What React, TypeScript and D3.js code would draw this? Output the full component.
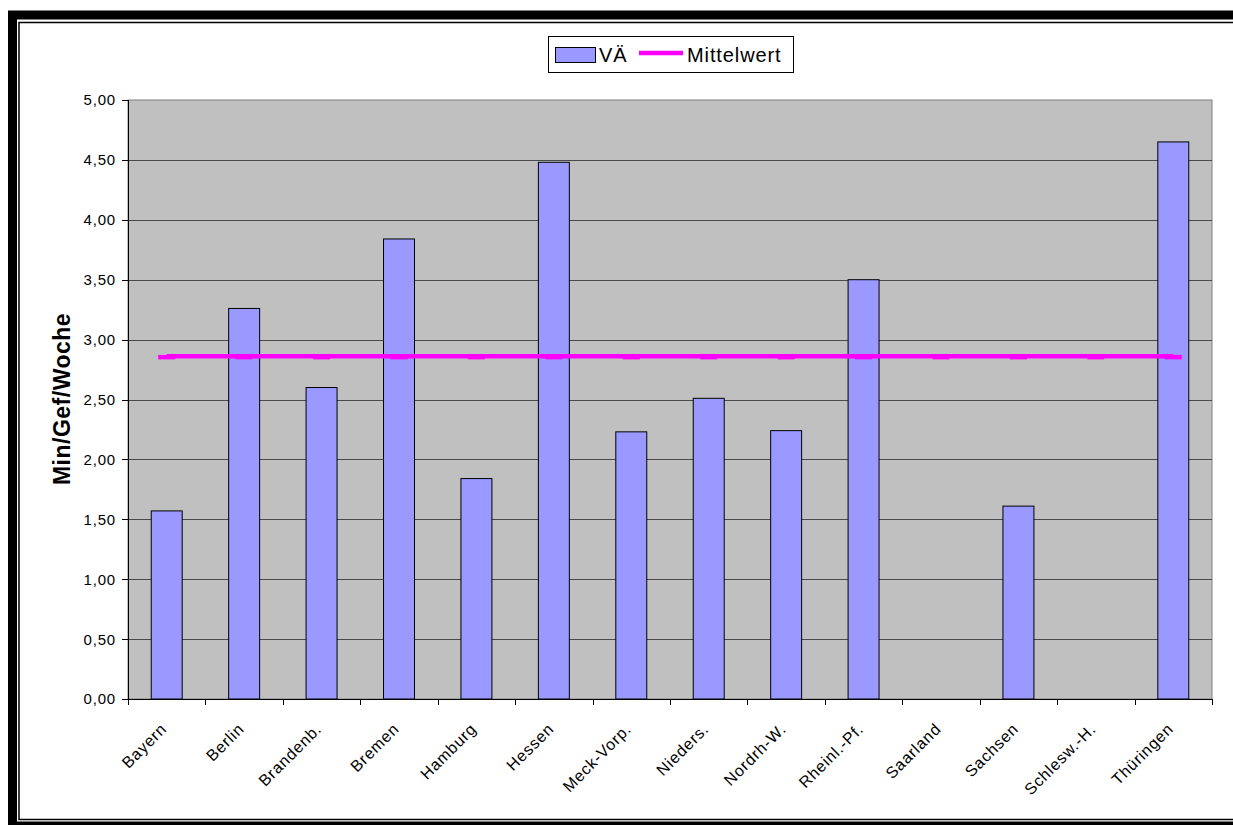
import React from "react";
import * as d3 from "d3";

// Bundesländer (x categories)
const categories: string[] = [
  "Bayern",
  "Berlin",
  "Brandenb.",
  "Bremen",
  "Hamburg",
  "Hessen",
  "Meck-Vorp.",
  "Nieders.",
  "Nordrh-W.",
  "Rheinl.-Pf.",
  "Saarland",
  "Sachsen",
  "Schlesw.-H.",
  "Thüringen",
];

// VÄ values in Min/Gef/Woche (null = no data)
const vaeValues: (number | null)[] = [
  1.57, 3.26, 2.6, 3.84, 1.84, 4.48, 2.23, 2.51, 2.24, 3.5, null, 1.61, null, 4.65,
];

// Mittelwert series (same value for every category)
const meanValues: number[] = [
  2.86, 2.86, 2.86, 2.86, 2.86, 2.86, 2.86, 2.86, 2.86, 2.86, 2.86, 2.86, 2.86, 2.86,
];

const yTicks: number[] = [0, 0.5, 1, 1.5, 2, 2.5, 3, 3.5, 4, 4.5, 5];

const W = 1233;
const H = 825;
const plot = { left: 128, top: 100, right: 1212, bottom: 699 };
const FONT = "'Liberation Sans', Arial, sans-serif";

const fmt = (v: number) => d3.format(".2f")(v).replace(".", ",");

export default function App() {
  const x = d3
    .scaleBand<string>()
    .domain(categories)
    .range([plot.left, plot.right])
    .paddingInner(0)
    .paddingOuter(0);
  const y = d3.scaleLinear().domain([0, 5]).range([plot.bottom, plot.top]);
  const bw = x.bandwidth();
  const barW = bw / 2.5;
  const center = (c: string) => (x(c) as number) + bw / 2;

  const meanLine = d3
    .line<number>()
    .x((_, i) => center(categories[i]))
    .y((d) => y(d));

  const boundaries = categories.map((c) => x(c) as number).concat([plot.right]);

  return (
    <svg
      width={W}
      height={H}
      style={{ position: "absolute", left: 0, top: 0, background: "#fff" }}
      fontFamily={FONT}
    >
      <rect x={0} y={0} width={W} height={H} fill="#fff" />

      {/* double frame */}
      <rect x={12.5} y={15} width={W + 20} height={811} fill="none" stroke="#000" strokeWidth={9} />
      <rect x={19} y={22.5} width={W + 20} height={797} fill="none" stroke="#000" strokeWidth={1.5} />

      {/* plot area */}
      <rect
        x={plot.left}
        y={plot.top}
        width={plot.right - plot.left}
        height={plot.bottom - plot.top}
        fill="#c0c0c0"
        stroke="#808080"
        strokeWidth={1}
      />

      {/* gridlines */}
      {yTicks
        .filter((t) => t > 0 && t < 5)
        .map((t) => (
          <line
            key={"g" + t}
            x1={plot.left}
            x2={plot.right}
            y1={Math.round(y(t)) + 0.5}
            y2={Math.round(y(t)) + 0.5}
            stroke="#4a4a4a"
            strokeWidth={1}
          />
        ))}

      {/* bars */}
      {categories.map((c, i) => {
        const v = vaeValues[i];
        if (v == null) return null;
        return (
          <rect
            key={"b" + c}
            x={center(c) - barW / 2}
            y={y(v)}
            width={barW}
            height={y(0) - y(v)}
            fill="#9999ff"
            stroke="#000"
            strokeWidth={1}
          />
        );
      })}

      {/* mean line with dash markers */}
      <path d={meanLine(meanValues) || ""} fill="none" stroke="#ff00ff" strokeWidth={4.5} />
      {meanValues.map((v, i) => (
        <rect
          key={"m" + i}
          x={center(categories[i]) - 8.5}
          y={y(v) - 1.5}
          width={17}
          height={4.5}
          fill="#ff00ff"
        />
      ))}

      {/* y axis */}
      <line x1={plot.left + 0.5} x2={plot.left + 0.5} y1={plot.top} y2={plot.bottom} stroke="#000" />
      {yTicks.map((t) => (
        <g key={"y" + t}>
          <line
            x1={plot.left - 6}
            x2={plot.left}
            y1={Math.round(y(t)) + 0.5}
            y2={Math.round(y(t)) + 0.5}
            stroke="#000"
          />
          <text
            x={116}
            y={y(t)}
            dy="0.36em"
            textAnchor="end"
            fontSize={15}
            letterSpacing={0.8}
            fill="#000"
          >
            {fmt(t)}
          </text>
        </g>
      ))}

      {/* x axis */}
      <line x1={plot.left} x2={plot.right} y1={plot.bottom + 0.5} y2={plot.bottom + 0.5} stroke="#000" />
      {boundaries.map((b, i) => (
        <line
          key={"xt" + i}
          x1={Math.round(b) + 0.5}
          x2={Math.round(b) + 0.5}
          y1={plot.bottom}
          y2={plot.bottom + 6}
          stroke="#000"
        />
      ))}
      {categories.map((c) => (
        <text
          key={"xl" + c}
          transform={`translate(${center(c) + 1},${plot.bottom + 31}) rotate(-45)`}
          textAnchor="end"
          fontSize={16}
          letterSpacing={0.8}
          fill="#000"
        >
          {c}
        </text>
      ))}

      {/* y axis title */}
      <text
        transform={`translate(70,399) rotate(-90)`}
        textAnchor="middle"
        fontSize={23}
        fontWeight="bold"
        letterSpacing={0.5}
        fill="#000"
      >
        Min/Gef/Woche
      </text>

      {/* legend */}
      <rect x={548.5} y={36.5} width={245} height={36} fill="#fff" stroke="#000" strokeWidth={1} />
      <rect x={555.5} y={47.5} width={40} height={15} fill="#9999ff" stroke="#000" strokeWidth={1} />
      <text x={599} y={62} fontSize={20} letterSpacing={0.8} fill="#000">
        VÄ
      </text>
      <line x1={639} x2={683} y1={53} y2={53} stroke="#ff00ff" strokeWidth={4.5} />
      <text x={687} y={62} fontSize={20} letterSpacing={0.9} fill="#000">
        Mittelwert
      </text>
    </svg>
  );
}
